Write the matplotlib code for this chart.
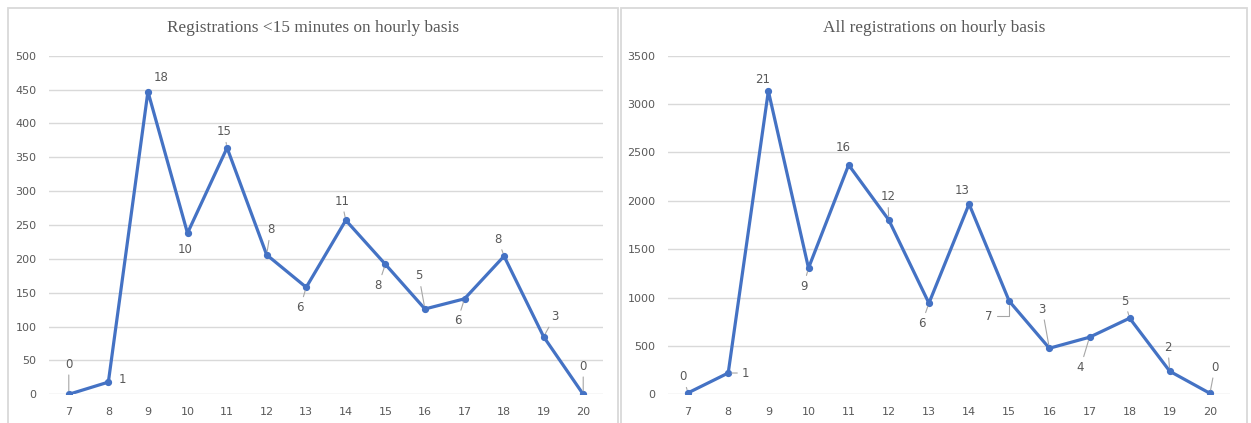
import matplotlib
matplotlib.use("Agg")
import matplotlib.pyplot as plt
from matplotlib.patches import Rectangle

# Hours of the day (category axis)
hours = [7, 8, 9, 10, 11, 12, 13, 14, 15, 16, 17, 18, 19, 20]

# Registrations completed in under 15 minutes, per hour
quick_counts = [0, 18, 447, 238, 364, 206, 158, 257, 192, 126, 141, 204, 85, 0]
quick_labels = ["0", "1", "18", "10", "15", "8", "6", "11", "8", "5", "6", "8", "3", "0"]

# All registrations, per hour
all_counts = [15, 220, 3135, 1305, 2371, 1802, 942, 1967, 963, 476, 590, 787, 238, 10]
all_labels = ["0", "1", "21", "9", "16", "12", "6", "13", "7", "3", "4", "5", "2", "0"]

left_title = "Registrations <15 minutes on hourly basis"
right_title = "All registrations on hourly basis"
left_yticks = [0, 50, 100, 150, 200, 250, 300, 350, 400, 450, 500]
right_yticks = [0, 500, 1000, 1500, 2000, 2500, 3000, 3500]

BLUE = "#4472C4"
GREY_TEXT = "#595959"
GRID = "#D9D9D9"
W, H = 1251, 423

# label offsets in pixels (dx, dy with y pointing down) and leader style:
# None = no leader, "s" = straight leader, "a" = elbow leader
left_offsets = [(0, -30, "s"), (14, -3, None), (13, -14, None), (-2, 16, None),
                (-3, -16, "s"), (4, -25, "s"), (-6, 20, "s"), (-4, -19, "s"),
                (-7, 21, "s"), (-6, -33, "s"), (-7, 22, "s"), (-6, -17, "s"),
                (11, -20, "s"), (0, -28, "s")]
right_offsets = [(-5, -16, "s"), (17, 0, "s"), (-6, -12, None), (-5, 18, "s"),
                 (-5, -17, None), (-1, -23, "s"), (-7, 20, "s"), (-7, -14, None),
                 (-20, 15, "a"), (-7, -39, "s"), (-9, 30, "s"), (-5, -17, "s"),
                 (-2, -24, "s"), (5, -26, "s")]

fig = plt.figure(figsize=(W / 100, H / 100), dpi=100)
fig.patch.set_facecolor("white")

# chart-area frames
for x0, x1 in [(8, 618), (621, 1247)]:
    fig.patches.append(Rectangle((x0 / W, -0.05), (x1 - x0) / W, 1.05 - 8 / H,
                                 transform=fig.transFigure, fill=False,
                                 edgecolor=GRID, linewidth=1.3, zorder=0))


def draw_panel(rect, values, labels, offsets, yticks, title, title_cx):
    ax = fig.add_axes(rect)
    ax.set_facecolor("none")
    ax.plot(hours, values, color=BLUE, linewidth=2.3, marker="o",
            markersize=4.2, zorder=3, solid_joinstyle="round")
    ax.set_xlim(hours[0] - 0.5, hours[-1] + 0.5)
    ax.set_ylim(yticks[0], yticks[-1])
    ax.set_xticks(hours)
    ax.set_xticklabels([str(h) for h in hours])
    ax.set_yticks(yticks)
    ax.set_yticklabels([str(t) for t in yticks])
    ax.grid(axis="y", color=GRID, linewidth=1.0)
    ax.set_axisbelow(True)
    for s in ax.spines.values():
        s.set_visible(False)
    ax.tick_params(axis="both", length=0, colors=GREY_TEXT, labelsize=8)
    ax.tick_params(axis="y", pad=9)
    ax.tick_params(axis="x", pad=9)
    for h, v, lab, (dx, dy, lead) in zip(hours, values, labels, offsets):
        props = None
        if lead == "s":
            props = dict(arrowstyle="-", color="#A6A6A6", lw=0.8,
                         shrinkA=1, shrinkB=2.5)
        elif lead == "a":
            props = dict(arrowstyle="-", color="#A6A6A6", lw=0.8,
                         shrinkA=1, shrinkB=2.5,
                         connectionstyle="angle,angleA=0,angleB=90,rad=0")
        ax.annotate(lab, xy=(h, v), xytext=(dx * 0.72, -dy * 0.72),
                    textcoords="offset points", ha="center", va="center",
                    fontsize=8.5, color=GREY_TEXT, arrowprops=props, zorder=4)
    fig.text(title_cx / W, 1 - 28 / H, title, ha="center", va="center",
             fontsize=12.4, color=GREY_TEXT, family="Liberation Serif")
    return ax


bottom = 1 - 394.3 / H
height = (394.3 - 55.7) / H
draw_panel([49 / W, bottom, (603 - 49) / W, height], quick_counts, quick_labels,
           left_offsets, left_yticks, left_title, 313)
draw_panel([668 / W, bottom, (1230 - 668) / W, height], all_counts, all_labels,
           right_offsets, right_yticks, right_title, 934)

fig.savefig("out.png", dpi=100, facecolor="white")
